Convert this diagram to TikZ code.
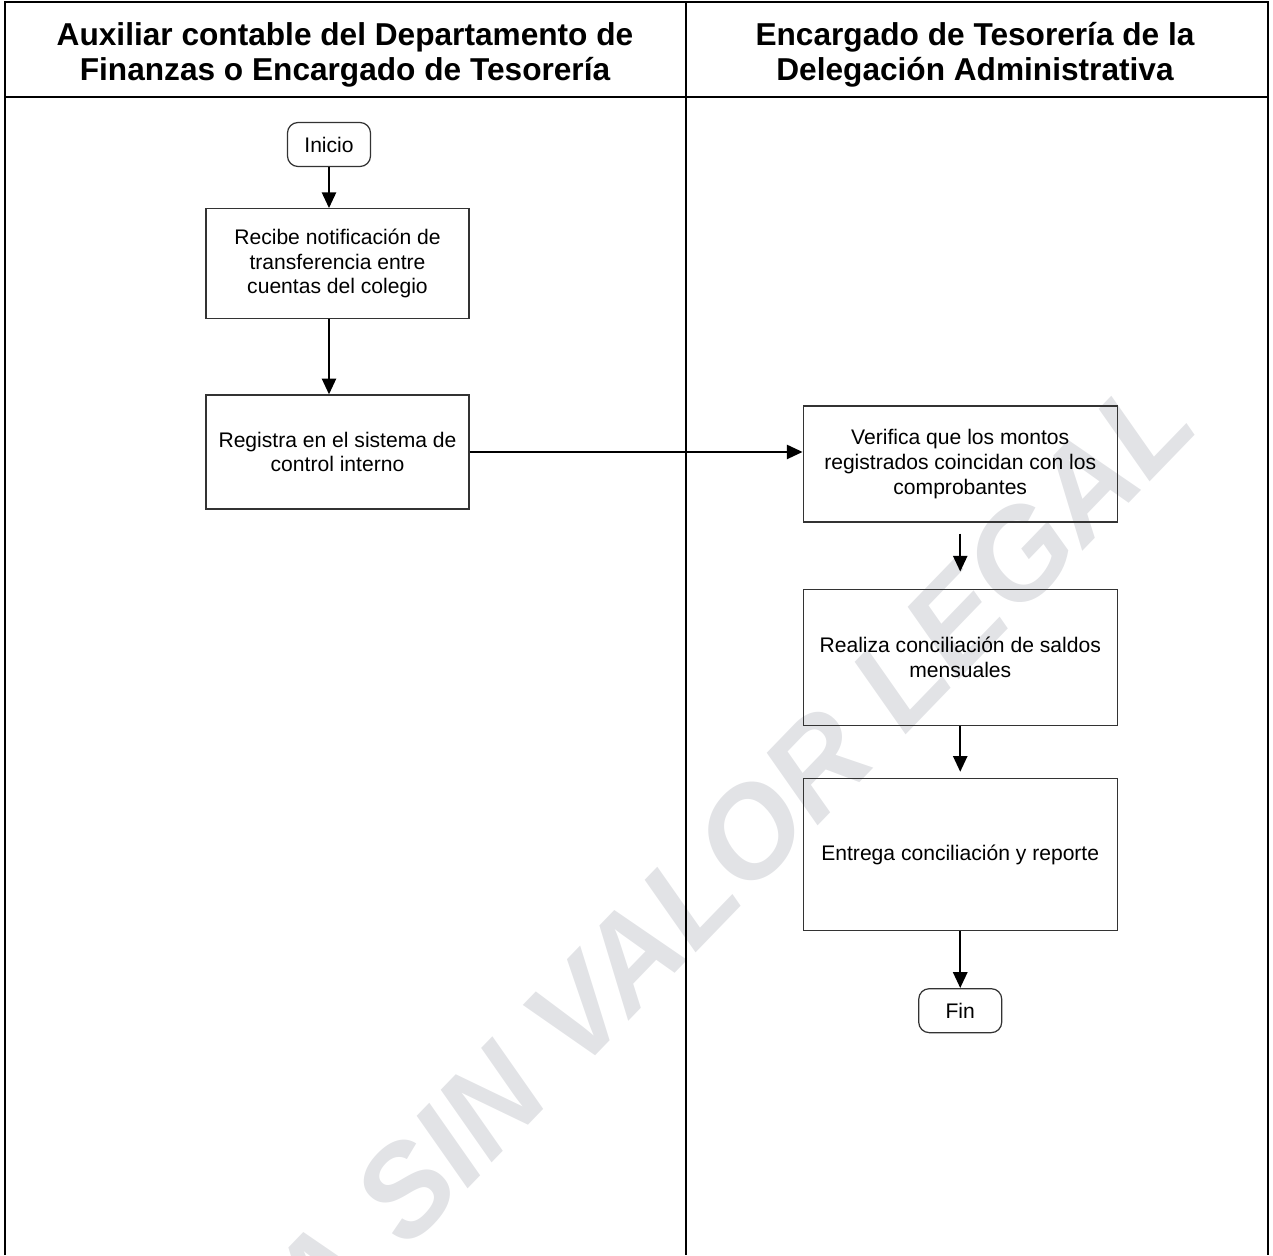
\documentclass[tikz,border=0pt]{standalone}
\usepackage{fontspec}
\setmainfont{Liberation Sans}
\usepackage{tikz}
\usetikzlibrary{arrows.meta, positioning}
\definecolor{marca}{RGB}{226,227,230}

\begin{document}
\begin{tikzpicture}[node distance=1cm,
    box/.style={draw=black!80, line width=0.7pt, rectangle, align=center, font=\fontsize{12}{14}\selectfont},
    term/.style={box, rounded corners=6pt, minimum width=1.66cm, minimum height=0.88cm},
    lane/.style={align=center, font=\fontsize{18}{20}\selectfont\bfseries},
    frame/.style={line width=1.6pt},
    arrow/.style={-{Triangle[length=9pt,width=8pt]}, line width=1.4pt}]

  \useasboundingbox (0,0) rectangle (25.46,-25.1);

  % marca de agua
  \begin{scope}
    \clip (0,0) rectangle (25.46,-25.1);
    \node[rotate=46, text=marca, inner sep=0pt, font=\fontsize{72}{72}\selectfont\bfseries\itshape] (marca) at (12.44,-19.32) {COPIA SIN VALOR LEGAL};
  \end{scope}

  % carriles
  \draw[frame] (0.1,-25.1) -- (0.1,-0.04) -- (25.36,-0.04) -- (25.36,-25.1);
  \draw[frame] (0.1,-1.94) -- (25.36,-1.94);
  \draw[line width=1.1pt] (13.72,-0.04) -- (13.72,-25.1);

  \node[lane] (lane1) at (6.9,-1.09) {Auxiliar contable del Departamento de\\Finanzas o Encargado de Tesorería};
  \node[lane] (lane2) at (19.5,-1.09) {Encargado de Tesorería de la\\Delegación Administrativa};

  % nodos
  \node[term] (inicio) at (6.58,-2.89) {Inicio};
  \node[box, minimum width=5.26cm, minimum height=2.2cm, below=0.82cm of inicio, xshift=0.17cm] (recibe) {Recibe notificación de\\transferencia entre\\cuentas del colegio};
  \node[box, minimum width=5.26cm, minimum height=2.28cm, below=1.5cm of recibe] (registra) {Registra en el sistema de\\control interno};

  \node[box, minimum width=6.28cm, minimum height=2.32cm, right=6.66cm of registra, yshift=-0.24cm] (verifica) {Verifica que los montos\\registrados coincidan con los\\comprobantes};
  \node[box, minimum width=6.28cm, minimum height=2.72cm, below=1.32cm of verifica] (realiza) {Realiza conciliación de saldos\\mensuales};
  \node[box, minimum width=6.28cm, minimum height=3.04cm, below=1.04cm of realiza] (entrega) {Entrega conciliación y reporte};
  \node[term, below=1.14cm of entrega] (fin) {Fin};

  % conexiones
  \draw[arrow] (inicio) -- (inicio |- recibe.north);
  \draw[arrow] (recibe.south -| inicio) -- (registra.north -| inicio);
  \draw[arrow] (registra) -- (registra -| verifica.west);
  \draw[arrow, shorten <=0.22cm, shorten >=0.34cm] (verifica) -- (realiza);
  \draw[arrow, shorten >=0.12cm] (realiza) -- (entrega);
  \draw[arrow] (entrega) -- (fin);

\end{tikzpicture}
\end{document}
